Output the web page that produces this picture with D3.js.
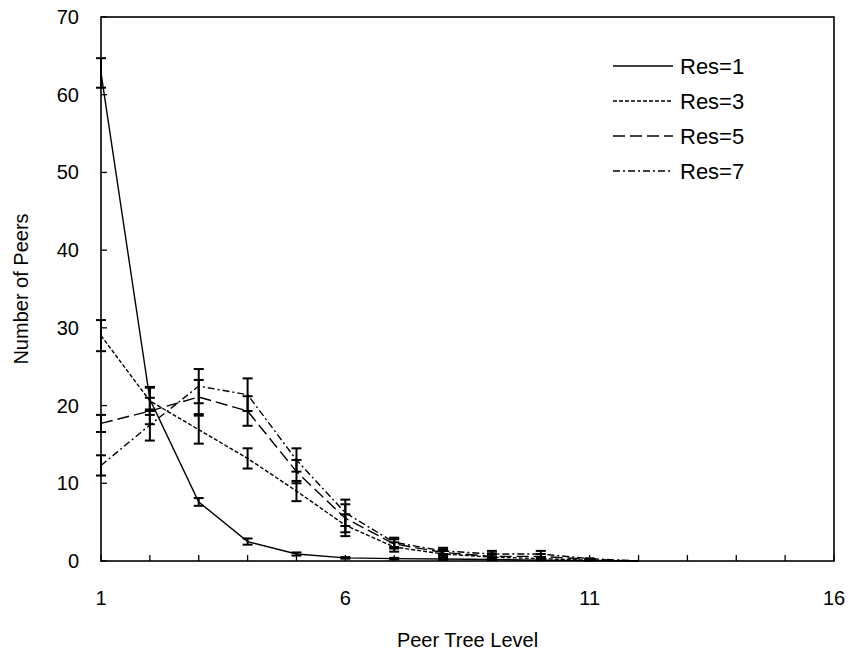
<!DOCTYPE html>
<html lang="en">
<head>
    <meta charset="utf-8">
    <title>Number of Peers per Peer Tree Level</title>
    <script src="https://d3js.org/d3.v7.min.js"></script>
    <style>
        body { margin: 0; background: #fff; }
        text { font-family: "Liberation Sans", Arial, sans-serif; fill: #000; }
    </style>
</head>
<body>
<div id="chart"></div>
<script>
    // data
    const levels = [1, 2, 3, 4, 5, 6, 7, 8, 9, 10, 11, 12];
    const res1 = [62.8, 20.8, 7.6, 2.5, 0.9, 0.4, 0.3, 0.25, 0.2, 0.1, 0.05, 0];
    const res1Err = [1.9, 1.5, 0.5, 0.4, 0.2, 0.1, 0.1, 0.1, 0.1, 0, 0, 0];
    const res3 = [29.0, 20.6, 16.9, 13.2, 9.0, 4.6, 1.8, 0.9, 0.5, 0.3, 0.1, 0];
    const res3Err = [2.0, 1.8, 1.8, 1.3, 1.3, 1.4, 0.6, 0.4, 0.3, 0.2, 0.05, 0];
    const res5 = [17.7, 19.3, 21.1, 19.3, 11.5, 5.5, 2.2, 1.1, 0.6, 0.6, 0.2, 0];
    const res5Err = [1.1, 1.7, 2.2, 1.9, 1.5, 1.8, 0.6, 0.4, 0.4, 0.3, 0.05, 0];
    const res7 = [12.3, 17.5, 22.5, 21.4, 13.0, 6.2, 2.4, 1.3, 0.9, 0.9, 0.3, 0];
    const res7Err = [1.3, 2.0, 2.2, 2.1, 1.5, 1.7, 0.6, 0.4, 0.4, 0.4, 0.05, 0];
    const seriesNames = ["Res=1", "Res=3", "Res=5", "Res=7"];
    const xTickLabels = [1, 6, 11, 16];
    const yTickLabels = [0, 10, 20, 30, 40, 50, 60, 70];

    const width = 851, height = 659;
    const margin = {top: 17, right: 17, bottom: 98, left: 101};
    const dashes = ["none", "4,2", "12,5", "7,3,2,3"];

    const series = seriesNames.map((name, i) => ({
        name: name,
        values: [res1, res3, res5, res7][i],
        errs: [res1Err, res3Err, res5Err, res7Err][i],
        dash: dashes[i]
    }));

    const svg = d3.select("#chart")
        .append("svg")
        .attr("width", width)
        .attr("height", height);

    const x = d3.scaleLinear().domain([1, 16]).range([margin.left, width - margin.right]);
    const y = d3.scaleLinear().domain([0, 70]).range([height - margin.bottom, margin.top]);

    // inward ticks
    svg.append("g")
        .selectAll("line")
        .data(d3.range(1, 17))
        .join("line")
        .attr("x1", d => x(d)).attr("x2", d => x(d))
        .attr("y1", y(0)).attr("y2", y(0) - 6)
        .attr("stroke", "#000").attr("stroke-width", 1.3);

    svg.append("g")
        .selectAll("line")
        .data(yTickLabels)
        .join("line")
        .attr("x1", x(1)).attr("x2", x(1) + 6)
        .attr("y1", d => y(d)).attr("y2", d => y(d))
        .attr("stroke", "#000").attr("stroke-width", 1.3);

    // tick labels
    svg.append("g")
        .selectAll("text")
        .data(xTickLabels)
        .join("text")
        .attr("x", d => x(d))
        .attr("y", y(0) + 44)
        .attr("text-anchor", "middle")
        .attr("font-size", 20)
        .text(d => d);

    svg.append("g")
        .selectAll("text")
        .data(yTickLabels)
        .join("text")
        .attr("x", x(1) - 22)
        .attr("y", d => y(d) + 7)
        .attr("text-anchor", "end")
        .attr("font-size", 20)
        .text(d => d);

    // axis titles
    svg.append("text")
        .attr("x", (x(1) + x(16)) / 2)
        .attr("y", 647)
        .attr("text-anchor", "middle")
        .attr("font-size", 20)
        .text("Peer Tree Level");

    svg.append("text")
        .attr("transform", `translate(28, ${(y(0) + y(70)) / 2}) rotate(-90)`)
        .attr("text-anchor", "middle")
        .attr("font-size", 20)
        .text("Number of Peers");

    // lines
    const line = d3.line()
        .x((d, i) => x(levels[i]))
        .y(d => y(d));

    svg.append("g")
        .selectAll("path")
        .data(series)
        .join("path")
        .attr("d", d => line(d.values))
        .attr("fill", "none")
        .attr("stroke", "#000")
        .attr("stroke-width", 1.4)
        .attr("stroke-dasharray", d => d.dash);

    // error bars
    const bars = series.flatMap(s => s.values.map((v, i) => ({lvl: levels[i], v: v, e: s.errs[i]})))
        .filter(d => d.e > 0);

    const eb = svg.append("g").attr("stroke", "#000").attr("stroke-width", 2);
    eb.selectAll("line.stem")
        .data(bars)
        .join("line")
        .attr("class", "stem")
        .attr("x1", d => x(d.lvl)).attr("x2", d => x(d.lvl))
        .attr("y1", d => y(d.v - d.e)).attr("y2", d => y(d.v + d.e));
    eb.selectAll("line.capHi")
        .data(bars)
        .join("line")
        .attr("class", "capHi")
        .attr("x1", d => x(d.lvl) - 5).attr("x2", d => x(d.lvl) + 5)
        .attr("y1", d => y(d.v + d.e)).attr("y2", d => y(d.v + d.e));
    eb.selectAll("line.capLo")
        .data(bars)
        .join("line")
        .attr("class", "capLo")
        .attr("x1", d => x(d.lvl) - 5).attr("x2", d => x(d.lvl) + 5)
        .attr("y1", d => y(d.v - d.e)).attr("y2", d => y(d.v - d.e));

    // frame
    svg.append("rect")
        .attr("x", x(1)).attr("y", y(70))
        .attr("width", x(16) - x(1)).attr("height", y(0) - y(70))
        .attr("fill", "none")
        .attr("stroke", "#000")
        .attr("stroke-width", 1.6);

    // legend
    const legend = svg.append("g")
        .selectAll("g")
        .data(series)
        .join("g")
        .attr("transform", (d, i) => `translate(613, ${66 + i * 35})`);
    legend.append("line")
        .attr("x1", 0).attr("x2", 60)
        .attr("stroke", "#000")
        .attr("stroke-width", 1.4)
        .attr("stroke-dasharray", d => d.dash);
    legend.append("text")
        .attr("x", 67).attr("y", 8)
        .attr("font-size", 22)
        .text(d => d.name);
</script>
</body>
</html>
